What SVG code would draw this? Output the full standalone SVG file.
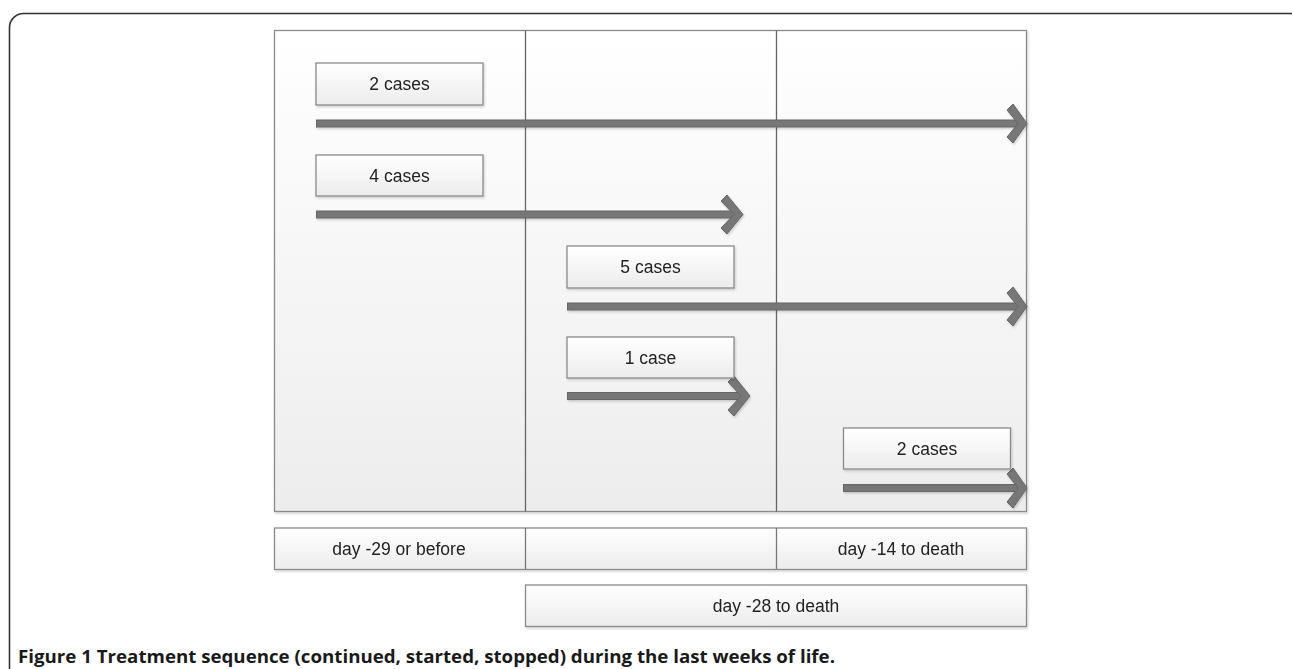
<svg xmlns="http://www.w3.org/2000/svg" width="1292" height="669" viewBox="0 0 1292 669">
<style>
.lbl{font-family:"Liberation Sans",Arial,sans-serif;font-size:17.5px;fill:#222;text-anchor:middle}
.box{fill:url(#gb);stroke:#8a8a8a;stroke-width:1.3}
.bar{fill:#777;stroke:#666;stroke-width:1}
.cap{font-family:"Open Sans","Liberation Sans",sans-serif;font-size:18px;font-weight:bold;fill:#1a1a1a}
</style>
<defs>
<linearGradient id="gb" x1="0" y1="0" x2="0" y2="1"><stop offset="0" stop-color="#ffffff"/><stop offset="1" stop-color="#ececec"/></linearGradient>
<linearGradient id="gp" x1="0" y1="0" x2="0" y2="1"><stop offset="0" stop-color="#ffffff"/><stop offset="1" stop-color="#ededed"/></linearGradient>
<filter id="sh" x="-5%" y="-20%" width="110%" height="140%"><feDropShadow dx="1" dy="1.5" stdDeviation="1" flood-color="#000" flood-opacity="0.18"/></filter>
</defs>
<rect x="9.5" y="13.5" width="1295" height="700" rx="14" fill="#fff" stroke="#333" stroke-width="1.6"/>
<g id="panel">
<rect x="274.5" y="30.5" width="752" height="481" fill="url(#gp)" stroke="#8a8a8a" stroke-width="1.3" filter="url(#sh)"/>
<line x1="525.5" y1="30.5" x2="525.5" y2="511.5" stroke="#666" stroke-width="1.3"/>
<line x1="776.5" y1="30.5" x2="776.5" y2="511.5" stroke="#666" stroke-width="1.3"/>
</g>
<g id="connectors" filter="url(#sh)">
<g id="a1"><rect class="bar" x="316.5" y="120" width="704" height="7"/><polygon class="bar" points="1007,110 1013,104 1027,123.5 1013,143 1007,137 1018,123.5"/></g>
<g id="a2"><rect class="bar" x="316.5" y="211" width="421" height="7"/><polygon class="bar" points="721,201 727,195 743,214.5 727,234 721,228 734,214.5"/></g>
<g id="a3"><rect class="bar" x="567.5" y="303" width="453" height="7"/><polygon class="bar" points="1007,293 1013,287 1027,306.5 1013,326 1007,320 1018,306.5"/></g>
<g id="a4"><rect class="bar" x="567.5" y="392.5" width="175" height="7"/><polygon class="bar" points="728,382 734,376 750,396 734,416 728,410 741,396"/></g>
<g id="a5"><rect class="bar" x="843.5" y="484.5" width="177" height="7"/><polygon class="bar" points="1007,474 1013,468 1027,488 1013,508 1007,502 1018,488"/></g>
</g>
<g id="n1" filter="url(#sh)"><rect class="box" x="316" y="63" width="167" height="42"/><text class="lbl" x="399.5" y="90">2 cases</text></g>
<g id="n2" filter="url(#sh)"><rect class="box" x="316" y="155" width="167" height="41"/><text class="lbl" x="399.5" y="182">4 cases</text></g>
<g id="n3" filter="url(#sh)"><rect class="box" x="567" y="246" width="167" height="42"/><text class="lbl" x="650.5" y="273">5 cases</text></g>
<g id="n4" filter="url(#sh)"><rect class="box" x="567" y="337" width="167" height="41"/><text class="lbl" x="650.5" y="364">1 case</text></g>
<g id="n5" filter="url(#sh)"><rect class="box" x="843.5" y="428" width="167" height="41"/><text class="lbl" x="927" y="455">2 cases</text></g>
<g id="timeline" filter="url(#sh)">
<rect class="box" x="274.5" y="528" width="752" height="41.5"/>
<line x1="525.5" y1="528" x2="525.5" y2="569.5" stroke="#777" stroke-width="1.3"/>
<line x1="776.5" y1="528" x2="776.5" y2="569.5" stroke="#777" stroke-width="1.3"/>
<text class="lbl" x="399" y="555">day -29 or before</text>
<text class="lbl" x="901" y="555">day -14 to death</text>
</g>
<g id="n6" filter="url(#sh)"><rect class="box" x="525.5" y="585" width="501" height="41.5"/><text class="lbl" x="776" y="612">day -28 to death</text></g>
<text class="cap" x="18" y="663" textLength="817" lengthAdjust="spacingAndGlyphs">Figure 1 Treatment sequence (continued, started, stopped) during the last weeks of life.</text>
</svg>
